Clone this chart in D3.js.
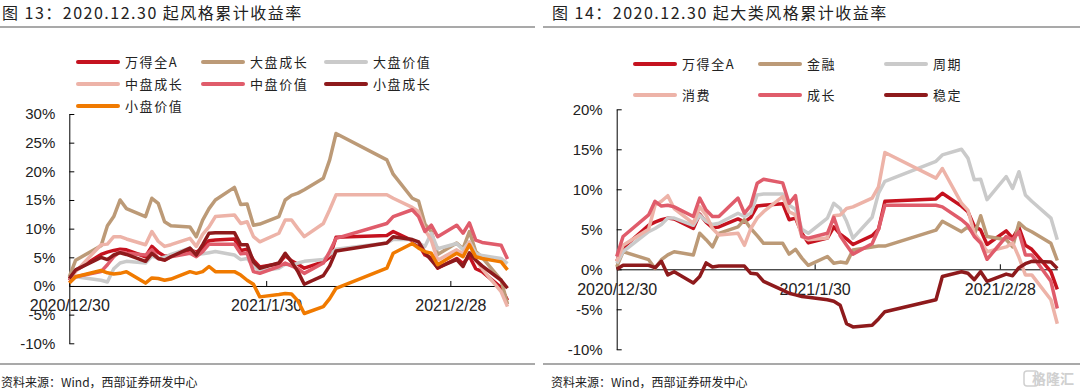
<!DOCTYPE html>
<html>
<head>
<meta charset="utf-8">
<script src="https://cdn.jsdelivr.net/npm/d3@7"></script>
<style>
  body { margin: 0; background: #fff; }
  svg { display: block; }
  .cjk { font-family: "Noto Sans CJK SC", "Liberation Sans", sans-serif; }
  .num { font-family: "Liberation Sans", Arial, sans-serif; }
</style>
</head>
<body>
<svg id="chart" width="1080" height="392"></svg>
<script>
"use strict";

// trading days shown in both charts
const tradeDates = [
  "2020-12-30","2020-12-31","2021-01-04","2021-01-05","2021-01-06","2021-01-07","2021-01-08",
  "2021-01-11","2021-01-12","2021-01-13","2021-01-14","2021-01-15","2021-01-18","2021-01-19",
  "2021-01-20","2021-01-21","2021-01-22","2021-01-25","2021-01-26","2021-01-27","2021-01-28",
  "2021-01-29","2021-02-01","2021-02-02","2021-02-03","2021-02-04","2021-02-05","2021-02-08",
  "2021-02-09","2021-02-10","2021-02-18","2021-02-19","2021-02-22","2021-02-23","2021-02-24",
  "2021-02-25","2021-02-26","2021-03-01","2021-03-02","2021-03-03","2021-03-04","2021-03-05",
  "2021-03-08","2021-03-09"
];
const xTickDates = ["2020-12-30", "2021-01-30", "2021-02-28"];

// cumulative return (%) since 2020-12-30
const windA = [1.0,2.7,5.5,5.9,6.2,6.4,6.3,5.1,6.9,5.9, 5.2,5.3,6.3,5.9,6.5,7.9,8.0,8.2,6.2,6.4,
  4.5,3.3,3.9,5.3,4.4,3.8,3.1,4.2,5.0,8.5, 8.8,9.5,7.9,7.2,5.4,4.9,3.1,4.8,3.9,5.2, 3.0,2.5,-0.3,-2.5];

// figure 13: size / style
const largeGrowth = [1.6,4.5,7.0,10.5,12.1,15.0,13.5,12.1,15.3,14.4, 11.2,10.5,10.3,8.6,11.5,13.5,15.0,17.2,14.2,14.3,
  10.6,10.8,12.1,15.0,15.8,16.2,16.8,18.8,22.0,26.6, 22.0,19.5,15.3,14.8,10.8,9.5,5.5,7.5,6.5,9.5, 6.0,5.0,1.0,-3.2];
const largeValue = [1.3,1.6,1.0,0.7,3.0,4.0,4.3,4.0,5.2,4.8, 5.0,5.5,6.6,5.5,5.6,5.8,6.0,5.4,4.6,4.8,
  3.5,2.6,3.1,3.8,3.6,4.0,4.3,4.6,5.5,6.4, 7.5,8.1,8.1,7.5,6.9,9.2,6.5,7.4,6.3,7.7, 5.7,5.3,4.8,3.9];
const midGrowth = [1.2,2.5,7.2,7.3,8.6,8.6,8.2,7.2,9.5,7.8, 6.9,7.2,8.3,6.9,9.0,10.3,12.1,12.4,10.9,11.2,
  8.6,7.7,9.2,11.5,11.5,10.0,8.6,10.9,13.3,15.9, 15.9,15.3,13.7,13.0,9.8,8.0,4.5,6.3,5.6,7.6, 4.6,3.0,-1.0,-3.6];
const midValue = [0.6,1.6,2.5,3.7,5.1,6.0,5.7,5.4,6.3,4.8, 4.5,5.1,5.7,5.1,6.0,7.3,7.3,7.3,5.6,5.7,
  2.5,2.2,3.4,4.0,3.5,3.0,2.2,4.0,6.0,8.3, 10.9,12.1,13.3,12.1,9.5,10.6,8.6,10.6,9.2,11.0, 8.0,7.6,7.1,4.7];
const smallGrowth = [1.3,2.8,5.0,4.6,5.4,5.8,5.5,4.3,5.7,4.8, 4.5,5.1,6.6,5.4,7.2,9.2,9.3,9.3,7.2,7.2,
  4.2,3.1,4.0,5.7,4.2,2.5,0.3,1.8,3.5,6.1, 7.5,8.6,8.1,7.7,5.8,4.5,3.2,4.6,3.4,5.8, 4.5,3.5,1.0,-0.4];
const smallValue = [0.5,1.6,2.7,2.3,2.1,2.2,2.5,0.5,1.4,1.3, 1.0,1.2,2.5,2.2,2.5,3.4,2.5,2.5,1.9,1.0,
  0.3,-1.9,-1.5,-1.3,-1.4,-2.6,-4.8,-3.6,-2.2,-0.4, 3.1,5.7,7.4,6.6,6.0,5.7,3.7,5.7,5.1,7.2, 5.1,4.8,4.2,2.8];

// figure 14: broad sectors
const finance = [0.3,2.2,1.2,0.1,1.2,1.8,2.2,1.8,4.5,3.7, 2.8,4.5,5.3,6.2,5.1,4.2,3.25,3.25,1.9,2.5,
  1.4,0.5,1.6,0.75,0.9,0.8,2.4,2.8,2.9,2.9, 4.9,6.0,4.7,5.3,4.3,6.7,4.1,3.7,2.8,5.8, 5.1,4.7,3.25,1.1];
const cyclical = [0.75,2.2,4.7,5.1,5.6,6.4,6.4,5.5,6.8,6.0, 5.6,5.75,7.0,6.6,7.0,9.3,9.4,9.4,8.0,7.5,
  5.0,4.5,6.4,8.25,7.6,6.0,3.9,6.5,9.5,11.0, 13.5,14.3,15.0,13.9,11.2,11.25,8.7,11.6,10.1,12.2, 9.3,8.5,6.4,3.7];
const consumer = [1.0,3.0,5.0,8.0,8.5,9.2,7.6,5.75,7.8,6.8, 5.1,4.3,4.5,3.0,5.1,6.4,7.2,9.1,7.2,6.8,
  4.1,3.7,3.9,6.7,6.8,7.6,7.8,8.9,10.3,14.6, 11.4,12.6,8.25,7.4,4.5,3.5,2.2,2.8,3.3,1.5, -0.7,-0.7,-3.8,-6.8];
const growth = [1.6,4.1,6.8,8.5,7.9,8.0,7.8,6.6,8.9,7.4, 6.6,6.6,8.9,7.0,8.0,10.75,11.25,10.8,8.25,9.2,
  4.1,3.9,4.5,6.5,4.2,3.0,1.9,3.2,5.0,8.0, 8.0,7.8,6.2,5.5,4.1,3.3,1.25,4.1,3.7,4.7, 1.8,1.8,-1.5,-4.9];
const stable = [0,0.5,0.5,0.2,1.0,-0.7,-0.3,-1.7,-0.9,0.8, 0.3,0.4,0.4,0.4,-0.5,-0.6,-1.5,-2.6,-3.0,-3.2,
  -3.4,-3.5,-3.8,-4.0,-4.5,-6.8,-7.2,-7.0,-6.2,-5.3, -3.8,-0.9,-0.3,-0.5,-1.3,-0.3,-1.5,-0.6,-0.8,0.2, 0.7,1.0,0.9,0.1];

const leftNames = ["万得全A", "大盘成长", "大盘价值", "中盘成长", "中盘价值", "小盘成长", "小盘价值"];
const leftValues = [windA, largeGrowth, largeValue, midGrowth, midValue, smallGrowth, smallValue];
const leftTicks = [-10, -5, 0, 5, 10, 15, 20, 25, 30];

const rightNames = ["万得全A", "金融", "周期", "消费", "成长", "稳定"];
const rightValues = [windA, finance, cyclical, consumer, growth, stable];
const rightTicks = [-10, -5, 0, 5, 10, 15, 20];

const colorOf = {
  "万得全A": "#C5121F", "大盘成长": "#BC9A77", "大盘价值": "#CACACA", "中盘成长": "#EDB3A8",
  "中盘价值": "#E05C6B", "小盘成长": "#8E1A1C", "小盘价值": "#F07A00",
  "金融": "#BC9A77", "周期": "#CACACA", "消费": "#EDB3A8", "成长": "#E05C6B", "稳定": "#8E1A1C"
};

const parse = d3.timeParse("%Y-%m-%d");
const dates = tradeDates.map(parse);
const fmt = d3.timeFormat("%Y/%-m/%-d");

const svg = d3.select("#chart");

function panel(o) {
  const g = svg.append("g");

  // title and rules
  g.append("text")
    .attr("class", "cjk").attr("x", o.titleX).attr("y", 19)
    .attr("fill", "#222").style("font-size", "16px").style("letter-spacing", "1.5px")
    .text(o.title);
  g.append("line").attr("x1", o.ruleX[0]).attr("x2", o.ruleX[1]).attr("y1", 27).attr("y2", 27)
    .attr("stroke", "#8c8c8c").attr("stroke-width", 1.5);
  g.append("line").attr("x1", o.ruleX[0]).attr("x2", o.ruleX[1]).attr("y1", 364).attr("y2", 364)
    .attr("stroke", "#8c8c8c").attr("stroke-width", 1.5);
  g.append("text")
    .attr("class", "cjk").attr("x", o.titleX - 1).attr("y", 387)
    .attr("fill", "#222").style("font-size", "12px")
    .text("资料来源：Wind，西部证券研发中心");

  const x = d3.scaleTime()
    .domain([parse("2020-12-30"), parse("2021-03-09")])
    .range(o.xRange);
  const y = d3.scaleLinear().domain(o.yDomain).range(o.yRange);

  // legend
  o.names.forEach((name, i) => {
    const col = i % 3, row = Math.floor(i / 3);
    const lx = o.legendX[col], ly = o.legendY[row];
    g.append("line").attr("x1", lx).attr("x2", lx + 40).attr("y1", ly).attr("y2", ly)
      .attr("stroke", colorOf[name]).attr("stroke-width", 4).attr("stroke-linecap", "round");
    g.append("text").attr("class", "cjk").attr("x", lx + 47).attr("y", ly).attr("dy", "0.36em")
      .attr("fill", "#222").style("font-size", "13px").style("letter-spacing", "1.6px")
      .text(name);
  });

  // y axis, ticks pointing inward
  const yAxis = g.append("g")
    .attr("transform", `translate(${o.xRange[0]},0)`)
    .call(d3.axisLeft(y).tickValues(o.yTicks).tickSize(-5).tickSizeOuter(0).tickPadding(14)
      .tickFormat(d => d + "%"));
  yAxis.selectAll("text").attr("class", "num").style("font-size", "15px").attr("fill", "#222");

  // x axis along zero line, ticks pointing up
  const xAxis = g.append("g")
    .attr("transform", `translate(0,${y(0)})`)
    .call(d3.axisBottom(x).tickValues(xTickDates.map(parse)).tickSize(-5).tickSizeOuter(0)
      .tickPadding(14).tickFormat(fmt));
  xAxis.selectAll("text").attr("class", "num").style("font-size", "16px").attr("fill", "#222");
  svg.selectAll(".domain, .tick line").attr("stroke", "#000");
  svg.selectAll(".tick text").attr("font-family", null);

  // series
  const line = d3.line().x((d, i) => x(dates[i])).y(d => y(d));
  o.names.forEach((name, i) => {
    g.append("path")
      .datum(o.values[i])
      .attr("d", line)
      .attr("fill", "none")
      .attr("stroke", colorOf[name])
      .attr("stroke-width", 3.5)
      .attr("stroke-linejoin", "round");
  });
}

panel({
  title: "图 13：2020.12.30 起风格累计收益率",
  titleX: 2, ruleX: [0, 535],
  names: leftNames, values: leftValues,
  legendX: [78, 203, 326], legendY: [62, 84, 106],
  xRange: [69.3, 507.5], yDomain: [-10, 30], yRange: [343.3, 114], yTicks: leftTicks
});

panel({
  title: "图 14：2020.12.30 起大类风格累计收益率",
  titleX: 552, ruleX: [543, 1080],
  names: rightNames, values: rightValues,
  legendX: [635, 760, 886], legendY: [64, 95],
  xRange: [616.7, 1057.3], yDomain: [-10, 20], yRange: [349.3, 109.3], yTicks: rightTicks
});

// watermark
svg.append("text").attr("class", "cjk").attr("x", 1074).attr("y", 384)
  .attr("text-anchor", "end").attr("fill", "#d0d0d0").style("font-size", "14px")
  .style("font-weight", "bold").text("格隆汇");
svg.append("rect").attr("x", 1024).attr("y", 371).attr("width", 14).attr("height", 15)
  .attr("rx", 3).attr("fill", "none").attr("stroke", "#d0d0d0").attr("stroke-width", 1.5);
</script>
</body>
</html>
